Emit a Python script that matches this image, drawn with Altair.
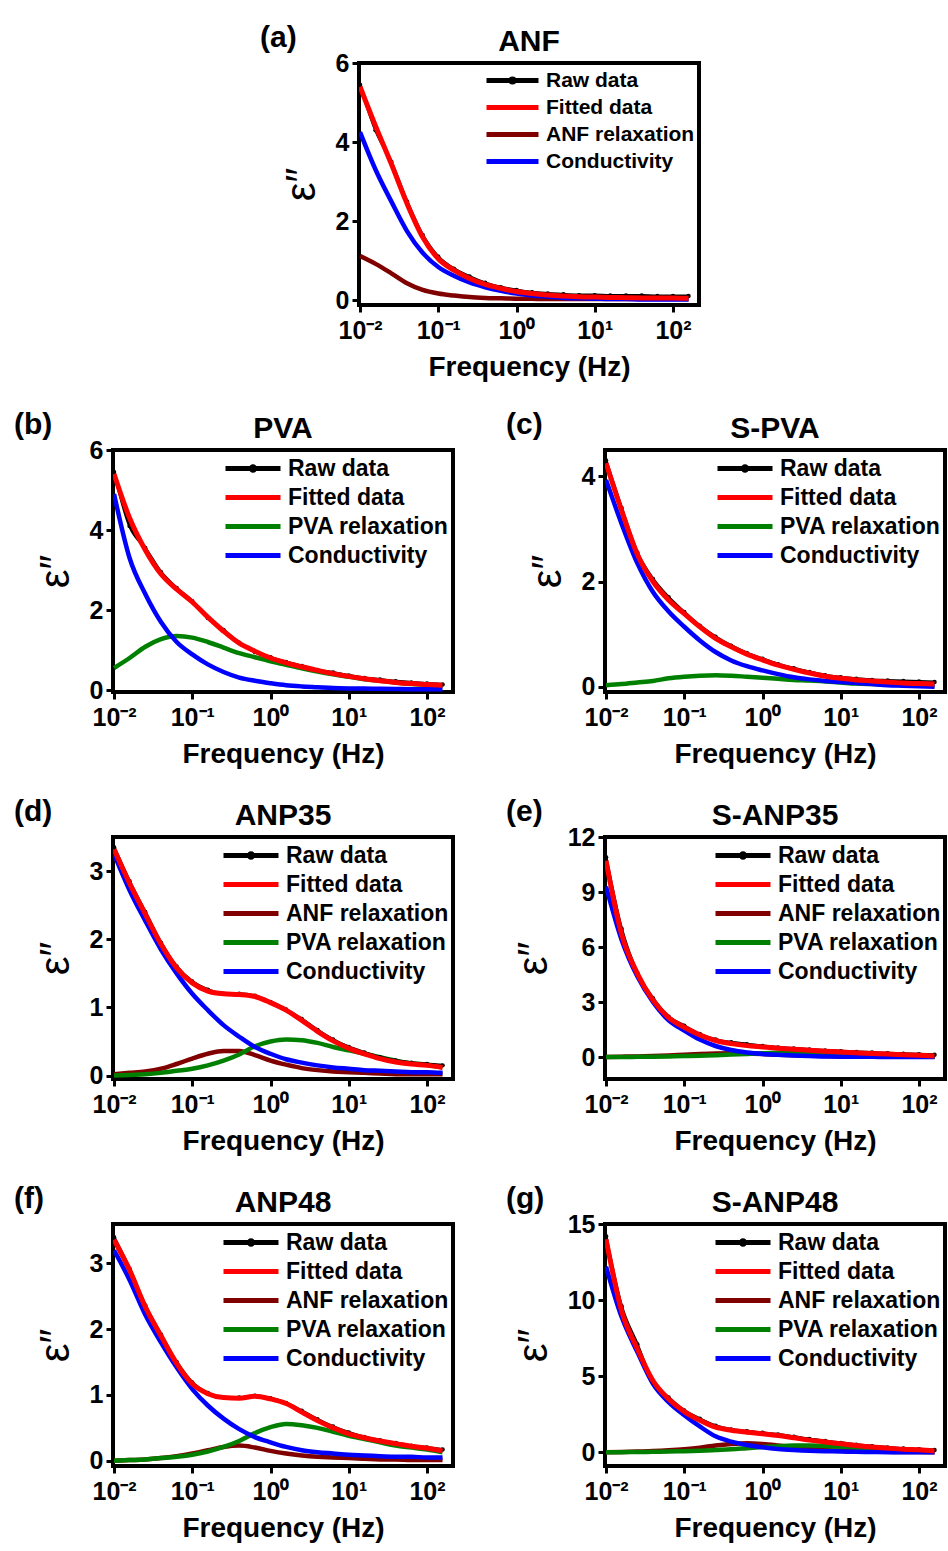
import altair as alt
import pandas as pd
import numpy as np

FONT = "Liberation Sans"

# frequencies (Hz), 5 points per decade
FREQ = [0.01, 0.0158, 0.0251, 0.0398, 0.0631, 0.1, 0.158, 0.251, 0.398, 0.631,
        1.0, 1.58, 2.51, 3.98, 6.31, 10.0, 15.8, 25.1, 39.8, 63.1, 100.0, 158.0]

# ---------- (a) ANF ----------
A_RAW = [5.45, 4.3, 3.5, 2.5, 1.65, 1.1, 0.8, 0.6, 0.44, 0.33, 0.26, 0.2, 0.17, 0.15, 0.13, 0.13, 0.12, 0.12, 0.12, 0.11, 0.11, 0.11]
A_FIT = [5.4, 4.4, 3.45, 2.45, 1.6, 1.05, 0.76, 0.55, 0.4, 0.3, 0.22, 0.17, 0.13, 0.11, 0.09, 0.08, 0.07, 0.065, 0.06, 0.06, 0.055, 0.05]
A_ANF = [1.12, 0.92, 0.68, 0.43, 0.26, 0.17, 0.12, 0.08, 0.06, 0.05, 0.04, 0.035, 0.03, 0.03, 0.03, 0.03, 0.03, 0.03, 0.03, 0.03, 0.03, 0.03]
A_CON = [4.25, 3.3, 2.5, 1.75, 1.2, 0.84, 0.62, 0.45, 0.33, 0.24, 0.17, 0.12, 0.09, 0.06, 0.05, 0.04, 0.03, 0.03, 0.02, 0.02, 0.02, 0.02]

# ---------- (b) PVA ----------
B_RAW = [5.45, 4.1, 3.55, 2.95, 2.55, 2.22, 1.8, 1.5, 1.18, 0.95, 0.82, 0.7, 0.6, 0.5, 0.44, 0.36, 0.3, 0.26, 0.22, 0.19, 0.16, 0.14]
B_FIT = [5.4, 4.3, 3.5, 2.9, 2.52, 2.2, 1.82, 1.47, 1.17, 0.97, 0.8, 0.68, 0.58, 0.49, 0.41, 0.34, 0.28, 0.23, 0.19, 0.16, 0.14, 0.12]
B_PVA = [0.55, 0.8, 1.08, 1.27, 1.35, 1.31, 1.2, 1.06, 0.92, 0.82, 0.72, 0.63, 0.54, 0.46, 0.39, 0.33, 0.27, 0.23, 0.19, 0.15, 0.13, 0.11]
B_CON = [4.9, 3.3, 2.4, 1.7, 1.2, 0.89, 0.64, 0.45, 0.31, 0.23, 0.17, 0.12, 0.09, 0.07, 0.05, 0.04, 0.035, 0.03, 0.025, 0.02, 0.02, 0.02]

# ---------- (c) S-PVA ----------
C_RAW = [4.3, 3.4, 2.55, 2.05, 1.7, 1.42, 1.16, 0.95, 0.78, 0.64, 0.53, 0.43, 0.35, 0.28, 0.22, 0.18, 0.15, 0.13, 0.12, 0.11, 0.1, 0.09]
C_FIT = [4.25, 3.35, 2.52, 2.0, 1.65, 1.39, 1.14, 0.92, 0.76, 0.62, 0.51, 0.41, 0.33, 0.26, 0.2, 0.16, 0.13, 0.11, 0.09, 0.07, 0.06, 0.05]
C_PVA = [0.03, 0.05, 0.08, 0.11, 0.16, 0.19, 0.21, 0.22, 0.21, 0.19, 0.17, 0.15, 0.13, 0.12, 0.1, 0.08, 0.06, 0.05, 0.04, 0.03, 0.03, 0.02]
C_CON = [3.93, 3.1, 2.35, 1.8, 1.43, 1.14, 0.88, 0.66, 0.5, 0.39, 0.31, 0.24, 0.18, 0.14, 0.11, 0.09, 0.07, 0.05, 0.03, 0.02, 0.01, 0.0]

# ---------- (d) ANP35 ----------
D_RAW = [3.35, 2.85, 2.4, 1.95, 1.6, 1.38, 1.26, 1.2, 1.2, 1.17, 1.08, 0.97, 0.83, 0.67, 0.53, 0.42, 0.34, 0.27, 0.22, 0.19, 0.17, 0.15]
D_FIT = [3.32, 2.82, 2.37, 1.93, 1.58, 1.36, 1.24, 1.2, 1.19, 1.16, 1.07, 0.96, 0.81, 0.65, 0.51, 0.4, 0.32, 0.25, 0.2, 0.17, 0.15, 0.12]
D_ANF = [0.02, 0.04, 0.06, 0.1, 0.17, 0.25, 0.32, 0.36, 0.36, 0.3, 0.22, 0.16, 0.11, 0.08, 0.06, 0.05, 0.04, 0.03, 0.02, 0.02, 0.02, 0.02]
D_PVA = [0.0, 0.01, 0.02, 0.04, 0.07, 0.1, 0.15, 0.22, 0.31, 0.43, 0.5, 0.53, 0.52, 0.48, 0.42, 0.37, 0.32, 0.27, 0.22, 0.18, 0.16, 0.12]
D_CON = [3.25, 2.72, 2.27, 1.85, 1.5, 1.2, 0.96, 0.74, 0.57, 0.42, 0.32, 0.24, 0.19, 0.15, 0.12, 0.1, 0.08, 0.07, 0.06, 0.05, 0.05, 0.04]

# ---------- (e) S-ANP35 ----------
E_RAW = [10.9, 7.0, 4.6, 3.2, 2.2, 1.7, 1.25, 0.95, 0.8, 0.7, 0.6, 0.52, 0.46, 0.41, 0.36, 0.32, 0.28, 0.24, 0.21, 0.18, 0.15, 0.12]
E_FIT = [10.7, 6.7, 4.55, 3.1, 2.15, 1.62, 1.2, 0.9, 0.73, 0.62, 0.55, 0.48, 0.42, 0.37, 0.32, 0.27, 0.23, 0.19, 0.16, 0.12, 0.09, 0.05]
E_ANF = [0.0, 0.02, 0.03, 0.05, 0.08, 0.12, 0.16, 0.19, 0.2, 0.19, 0.16, 0.12, 0.09, 0.07, 0.05, 0.04, 0.03, 0.02, 0.02, 0.02, 0.02, 0.02]
E_PVA = [0.0, 0.0, 0.01, 0.02, 0.03, 0.05, 0.07, 0.1, 0.13, 0.17, 0.2, 0.23, 0.25, 0.26, 0.25, 0.23, 0.2, 0.16, 0.13, 0.1, 0.07, 0.05]
E_CON = [9.3, 6.4, 4.4, 3.0, 2.0, 1.44, 0.95, 0.6, 0.38, 0.25, 0.17, 0.12, 0.08, 0.05, 0.03, 0.02, 0.01, 0.01, 0.0, 0.0, 0.0, 0.0]

# ---------- (f) ANP48 ----------
F_RAW = [3.4, 2.92, 2.36, 1.92, 1.5, 1.19, 1.03, 0.96, 0.96, 0.99, 0.95, 0.88, 0.76, 0.63, 0.52, 0.43, 0.36, 0.31, 0.27, 0.23, 0.2, 0.17]
F_FIT = [3.36, 2.9, 2.34, 1.9, 1.48, 1.17, 1.02, 0.96, 0.95, 0.98, 0.94, 0.87, 0.74, 0.61, 0.5, 0.41, 0.35, 0.3, 0.26, 0.22, 0.19, 0.15]
F_ANF = [0.0, 0.01, 0.02, 0.04, 0.07, 0.11, 0.16, 0.21, 0.23, 0.2, 0.15, 0.11, 0.08, 0.06, 0.05, 0.04, 0.03, 0.02, 0.02, 0.01, 0.01, 0.01]
F_PVA = [0.0, 0.01, 0.02, 0.04, 0.06, 0.09, 0.14, 0.21, 0.3, 0.42, 0.51, 0.56, 0.54, 0.5, 0.44, 0.38, 0.33, 0.28, 0.23, 0.2, 0.17, 0.13]
F_CON = [3.2, 2.75, 2.22, 1.8, 1.42, 1.09, 0.84, 0.64, 0.48, 0.36, 0.28, 0.21, 0.16, 0.13, 0.11, 0.09, 0.08, 0.07, 0.06, 0.06, 0.05, 0.05]

# ---------- (g) S-ANP48 ----------
G_RAW = [14.2, 9.6, 7.1, 4.6, 3.6, 2.75, 2.2, 1.75, 1.5, 1.38, 1.28, 1.17, 1.02, 0.87, 0.74, 0.62, 0.5, 0.4, 0.32, 0.25, 0.2, 0.15]
G_FIT = [14.0, 9.3, 6.8, 4.7, 3.5, 2.67, 2.1, 1.65, 1.45, 1.32, 1.22, 1.1, 0.95, 0.8, 0.68, 0.56, 0.45, 0.35, 0.27, 0.2, 0.16, 0.08]
G_ANF = [0.0, 0.02, 0.05, 0.08, 0.13, 0.2, 0.3, 0.45, 0.55, 0.6, 0.55, 0.45, 0.33, 0.22, 0.15, 0.1, 0.06, 0.04, 0.03, 0.02, 0.02, 0.01]
G_PVA = [0.0, 0.01, 0.02, 0.03, 0.05, 0.07, 0.1, 0.15, 0.2, 0.27, 0.34, 0.4, 0.44, 0.45, 0.42, 0.37, 0.31, 0.25, 0.19, 0.14, 0.1, 0.07]
G_CON = [12.2, 8.9, 6.6, 4.5, 3.3, 2.44, 1.7, 1.05, 0.7, 0.48, 0.33, 0.22, 0.15, 0.1, 0.07, 0.05, 0.03, 0.02, 0.01, 0.01, 0.01, 0.01]

X_TICKS = [0.01, 0.1, 1, 10, 100]
X_LABEL_EXPR = ("datum.value < 0.05 ? '10\u207b\u00b2' : datum.value < 0.5 ? '10\u207b\u00b9' : "
                "datum.value < 5 ? '10\u2070' : datum.value < 50 ? '10\u00b9' : '10\u00b2'")

COLORS = {"Raw data": "#000000", "Fitted data": "#ff0000", "ANF relaxation": "#800000",
          "PVA relaxation": "#008000", "Conductivity": "#0000ff"}
LINE_PATH = "M-1,0H1"
RAW_PATH = "M-1,0H1M-0.06,0A0.06,0.06,0,1,1,0.06,0A0.06,0.06,0,1,1,-0.06,0"

W, H = 340, 242


def panel(letter, title, series, ydom, yticks, leg_font, sym_len, row_h):
    names = list(series.keys())
    rows = []
    for name, vals in series.items():
        for f, v in zip(FREQ, vals):
            rows.append({"f": f, "v": v, "s": name})
    df = pd.DataFrame(rows)

    x_enc = alt.X("f:Q",
                  scale=alt.Scale(type="log", domain=[0.0097, 215], nice=False),
                  axis=alt.Axis(values=X_TICKS, labelExpr=X_LABEL_EXPR, title="Frequency (Hz)",
                                domain=False, grid=False, tickSize=7, tickWidth=3, tickColor="black",
                                labelFont=FONT, labelFontSize=25, labelFontWeight="bold",
                                labelColor="black", labelPadding=6, labelFlush=False,
                                labelOverlap=False, titleFont=FONT, titleFontSize=28,
                                titleFontWeight="bold", titleColor="black", titlePadding=10))
    y_enc = alt.Y("v:Q",
                  scale=alt.Scale(domain=ydom, nice=False, zero=False),
                  axis=alt.Axis(values=yticks, title="\u03b5\u2033", format="d",
                                domain=False, grid=False, tickSize=7, tickWidth=3, tickColor="black",
                                labelFont=FONT, labelFontSize=25, labelFontWeight="bold",
                                labelColor="black", labelPadding=3, titleFont=FONT,
                                titleFontSize=42, titleFontWeight="normal", titleColor="black",
                                titlePadding=12))

    base = alt.Chart(df)
    layers = []
    for comp in ["ANF relaxation", "PVA relaxation", "Conductivity"]:
        if comp in series:
            layers.append(base.transform_filter(alt.datum.s == comp)
                          .mark_line(color=COLORS[comp], strokeWidth=4.5, interpolate="monotone", clip=True)
                          .encode(x=x_enc, y=y_enc))
    layers.append(base.transform_filter(alt.datum.s == "Raw data")
                  .mark_line(color="black", strokeWidth=3, interpolate="monotone", clip=True)
                  .encode(x=x_enc, y=y_enc))
    layers.append(base.transform_filter(alt.datum.s == "Raw data")
                  .mark_point(color="black", filled=True, size=20, opacity=1, clip=True)
                  .encode(x=x_enc, y=y_enc))
    layers.append(base.transform_filter(alt.datum.s == "Fitted data")
                  .mark_line(color="#ff0000", strokeWidth=5, interpolate="monotone", clip=True)
                  .encode(x=x_enc, y=y_enc))

    # legend carrier layer (no visible points: positions are empty)
    leg_df = pd.DataFrame({"s": names, "f": [np.nan] * len(names), "v": [np.nan] * len(names)})
    size = sym_len * sym_len
    leg = alt.Legend(title=None, orient="top-right", offset=4, padding=0,
                     symbolSize=size, symbolStrokeWidth=5, symbolOpacity=1,
                     labelFont=FONT, labelFontSize=leg_font, labelFontWeight="bold",
                     labelColor="black", labelOffset=5, labelLimit=400,
                     clipHeight=row_h, rowPadding=0)
    layers.append(alt.Chart(leg_df).mark_point(filled=False, strokeWidth=5, size=size, opacity=1)
                  .encode(x=x_enc, y=y_enc,
                          color=alt.Color("s:N", scale=alt.Scale(domain=names,
                                                                  range=[COLORS[n] for n in names]),
                                          legend=leg, sort=names),
                          shape=alt.Shape("s:N", scale=alt.Scale(domain=names,
                                                                  range=[RAW_PATH if n == "Raw data" else LINE_PATH for n in names]),
                                          legend=leg, sort=names)))

    # panel letter and panel title
    layers.append(alt.Chart(pd.DataFrame({"t": [letter]}))
                  .mark_text(align="left", baseline="alphabetic", font=FONT, fontSize=30,
                             fontWeight="bold", color="black")
                  .encode(text="t:N", x=alt.value(-99), y=alt.value(-16)))
    layers.append(alt.Chart(pd.DataFrame({"t": [title]}))
                  .mark_text(align="center", baseline="alphabetic", font=FONT, fontSize=30,
                             fontWeight="bold", color="black")
                  .encode(text="t:N", x=alt.value(W / 2), y=alt.value(-12)))

    return alt.layer(*layers).properties(width=W, height=H)


pa = panel("(a)", "ANF", {"Raw data": A_RAW, "Fitted data": A_FIT, "ANF relaxation": A_ANF,
                          "Conductivity": A_CON}, [-0.12, 6], [0, 2, 4, 6], 21, 52, 27)
pb = panel("(b)", "PVA", {"Raw data": B_RAW, "Fitted data": B_FIT, "PVA relaxation": B_PVA,
                          "Conductivity": B_CON}, [-0.05, 6], [0, 2, 4, 6], 23, 55, 29)
pc = panel("(c)", "S-PVA", {"Raw data": C_RAW, "Fitted data": C_FIT, "PVA relaxation": C_PVA,
                            "Conductivity": C_CON}, [-0.1, 4.5], [0, 2, 4], 23, 55, 29)
pd_ = panel("(d)", "ANP35", {"Raw data": D_RAW, "Fitted data": D_FIT, "ANF relaxation": D_ANF,
                             "PVA relaxation": D_PVA, "Conductivity": D_CON},
            [-0.05, 3.5], [0, 1, 2, 3], 23, 55, 29)
pe = panel("(e)", "S-ANP35", {"Raw data": E_RAW, "Fitted data": E_FIT, "ANF relaxation": E_ANF,
                              "PVA relaxation": E_PVA, "Conductivity": E_CON},
           [-1.2, 12], [0, 3, 6, 9, 12], 23, 55, 29)
pf = panel("(f)", "ANP48", {"Raw data": F_RAW, "Fitted data": F_FIT, "ANF relaxation": F_ANF,
                            "PVA relaxation": F_PVA, "Conductivity": F_CON},
           [-0.08, 3.6], [0, 1, 2, 3], 23, 55, 29)
pg = panel("(g)", "S-ANP48", {"Raw data": G_RAW, "Fitted data": G_FIT, "ANF relaxation": G_ANF,
                              "PVA relaxation": G_PVA, "Conductivity": G_CON},
           [-0.9, 15], [0, 5, 10, 15], 23, 55, 29)


def indep(c):
    return (c.resolve_scale(x="independent", y="independent", color="independent", shape="independent")
             .resolve_legend(color="independent", shape="independent"))


row2 = indep(alt.hconcat(pb, pc, spacing=152, bounds="flush"))
row3 = indep(alt.hconcat(pd_, pe, spacing=152, bounds="flush"))
row4 = indep(alt.hconcat(pf, pg, spacing=152, bounds="flush"))

chart = indep(alt.vconcat(pa, row2, row3, row4, spacing=25, center=True))
chart = chart.properties(padding={"left": 12, "top": 21, "right": 0, "bottom": 0},
                         background="white")
chart = chart.configure_view(stroke="black", strokeWidth=4)

chart.save("out.html", embed_options={"renderer": "svg", "actions": False})
